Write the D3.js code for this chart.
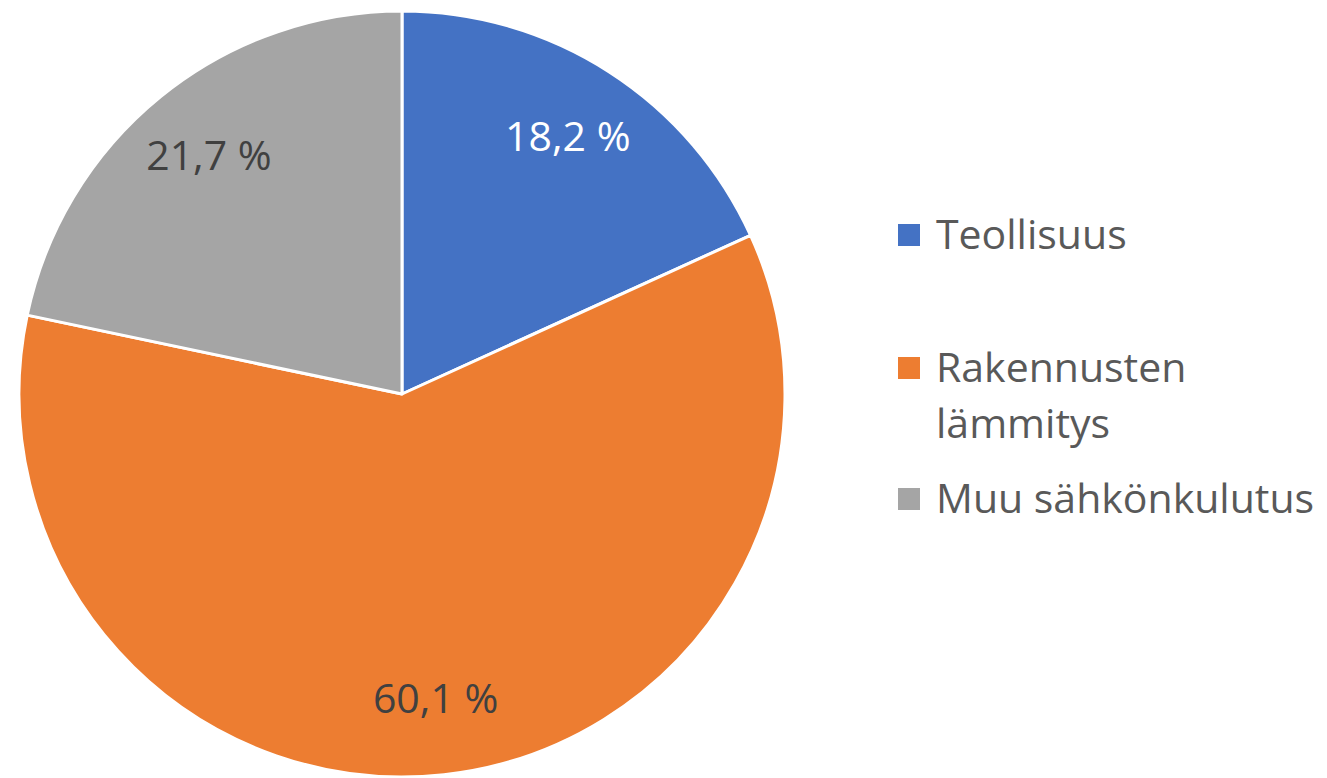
<!DOCTYPE html>
<html>
<head>
<meta charset="utf-8">
<script src="https://cdn.jsdelivr.net/npm/d3@7"></script>
<style>
  html, body { margin: 0; padding: 0; background: #fff; }
  svg { display: block; font-family: "Open Sans", sans-serif; }
</style>
</head>
<body>
<div id="chart"></div>
<script>
const categories = ['Teollisuus', 'Rakennusten lämmitys', 'Muu sähkönkulutus'];
const legendLines = [['Teollisuus'], ['Rakennusten', 'lämmitys'], ['Muu sähkönkulutus']];
const values = [18.2, 60.1, 21.7];
const colors = ['#4472C4', '#ED7D31', '#A5A5A5'];
const labelColors = ['#ffffff', '#404040', '#404040'];

const width = 1327, height = 778;
const cx = 402, cy = 394, radius = 383;

const svg = d3.select('#chart')
  .append('svg')
  .attr('width', width)
  .attr('height', height);

const data = categories.map((c, i) => ({name: c, value: values[i], i: i}));

const pie = d3.pie().value(d => d.value).sort(null);
const arc = d3.arc().innerRadius(0).outerRadius(radius);
const labelArc = d3.arc().innerRadius(radius * 0.8).outerRadius(radius * 0.8);

const g = svg.append('g').attr('transform', 'translate(' + cx + ',' + cy + ')');
const arcs = pie(data);

g.selectAll('path')
  .data(arcs)
  .join('path')
  .attr('d', arc)
  .attr('fill', d => colors[d.data.i])
  .attr('stroke', '#fff')
  .attr('stroke-width', 3)
  .attr('stroke-linejoin', 'round');

g.selectAll('text.lbl')
  .data(arcs)
  .join('text')
  .attr('class', 'lbl')
  .attr('transform', d => 'translate(' + labelArc.centroid(d) + ')')
  .attr('text-anchor', 'middle')
  .attr('dy', '0.35em')
  .attr('font-size', 41)
  .attr('fill', d => labelColors[d.data.i])
  .text(d => d.data.value.toFixed(1).replace('.', ',') + ' %');

// legend, one block per category; the second one wraps to two lines
const lineGap = 56;
const legend = svg.append('g');
let base = 249;
legendLines.forEach((lines, i) => {
  legend.append('rect')
    .attr('x', 898).attr('y', base - 25)
    .attr('width', 22).attr('height', 22)
    .attr('fill', colors[i]);
  lines.forEach((t, j) => {
    legend.append('text')
      .attr('x', 936).attr('y', base + j * lineGap)
      .attr('font-size', 41)
      .attr('fill', '#595959')
      .text(t);
  });
  base += lines.length === 1 ? 133 : 131;
});
</script>
</body>
</html>
